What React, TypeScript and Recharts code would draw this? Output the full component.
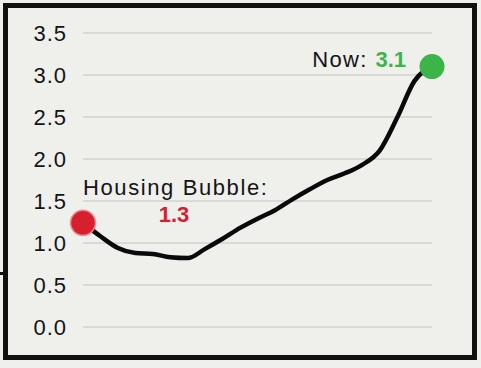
import { LineChart, Line, XAxis, YAxis, CartesianGrid } from "recharts"

const periods = [0, 1, 2, 3, 4, 5, 6, 7, 8, 9, 10, 11, 12, 13, 14, 15, 16, 17, 18, 19, 20]
const ratio = [
  1.24, 1.08, 0.94, 0.88, 0.87, 0.83, 0.82, 0.93, 1.05, 1.18, 1.29,
  1.39, 1.52, 1.64, 1.75, 1.83, 1.93, 2.1, 2.49, 2.93, 3.1,
]
const yTicks = [0, 0.5, 1, 1.5, 2, 2.5, 3, 3.5]
const bubbleLabel = "Housing Bubble:"
const bubbleValue = "1.3"
const nowLabel = "Now: "
const nowValue = "3.1"

const chartData = periods.map((p, i) => ({ period: p, ratio: ratio[i] }))

const FONT = "'Liberation Sans', Arial, Helvetica, sans-serif"
const RED = "#d6202d"
const GREEN = "#3bb54a"

const Marker = (props: any) => {
  const { cx, cy, index } = props
  if (cx == null || cy == null) return null
  if (index === 0) {
    return (
      <g key="start">
        <circle cx={cx} cy={cy} r={12.5} fill={RED} stroke="#ec8a90" strokeWidth={1.5} />
        <text x={cx} y={cy - 28} fontSize={22} letterSpacing={1.6} fill="#141414" fontFamily={FONT}>
          {bubbleLabel}
        </text>
        <text x={cx + 91} y={cy - 1} fontSize={22} fontWeight="bold" textAnchor="middle" fill={RED} fontFamily={FONT}>
          {bubbleValue}
        </text>
      </g>
    )
  }
  if (index === ratio.length - 1) {
    return (
      <g key="end">
        <circle cx={cx} cy={cy} r={12.5} fill={GREEN} />
        <text x={cx - 26} y={cy} fontSize={22} letterSpacing={1.4} textAnchor="end" fill="#141414" fontFamily={FONT}>
          {nowLabel}
          <tspan fill={GREEN} fontWeight="bold" letterSpacing={0}>{nowValue}</tspan>
        </text>
      </g>
    )
  }
  return <g key={`d${index}`} />
}

export default function App() {
  return (
    <div
      style={{
        position: "absolute",
        left: 0,
        top: 0,
        width: 481,
        height: 368,
        background: "#efefec",
        overflow: "hidden",
      }}
    >
      <div
        style={{
          position: "absolute",
          left: 3,
          top: 3,
          width: 474,
          height: 357,
          boxSizing: "border-box",
          border: "5px solid #111",
        }}
      />
      <div style={{ position: "absolute", left: 0, top: 272, width: 4, height: 3, background: "#111" }} />
      <div style={{ position: "absolute", left: 0, top: 0 }}>
        <LineChart
          width={481}
          height={368}
          data={chartData}
          margin={{ top: 33, right: 49, bottom: 41, left: 0 }}
        >
          <CartesianGrid vertical={false} stroke="#c4c4c2" strokeWidth={1} />
          <XAxis dataKey="period" type="number" domain={[0, 20]} hide />
          <YAxis
            type="number"
            domain={[0, 3.5]}
            ticks={yTicks}
            width={83}
            axisLine={false}
            tickLine={false}
            tickSize={0}
            tickMargin={16}
            interval={0}
            tickFormatter={(v: number) => v.toFixed(1)}
            tick={{ fill: "#141414", fontSize: 22, fontFamily: FONT, letterSpacing: 1 }}
          />
          <Line
            dataKey="ratio"
            stroke="none"
            dot={<Marker />}
            activeDot={false}
            isAnimationActive={false}
          />
          <Line
            dataKey="ratio"
            type="monotone"
            stroke="#0a0a0a"
            strokeWidth={4.5}
            strokeLinecap="round"
            strokeLinejoin="round"
            dot={false}
            activeDot={false}
            isAnimationActive={false}
          />
        </LineChart>
      </div>
    </div>
  )
}
